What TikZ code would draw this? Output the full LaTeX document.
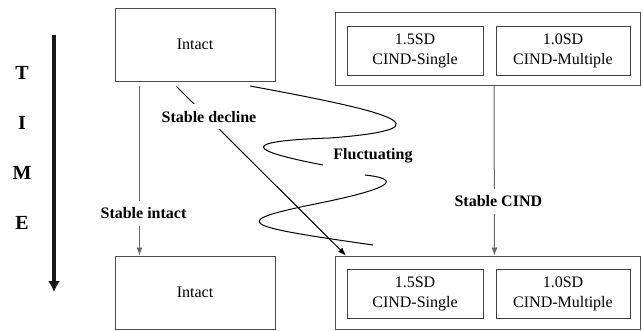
\documentclass[tikz,border=0pt]{standalone}
\usepackage{fontspec}
\setmainfont{Liberation Serif}
\usetikzlibrary{arrows.meta,positioning}

\begin{document}
\begin{tikzpicture}[>={Latex[length=8pt,width=6pt]}, x=1pt, y=-1pt,
    box/.style={draw=black!70, line width=1pt, minimum width=160pt, minimum height=73pt, font=\fontsize{16}{20}\selectfont},
    outbox/.style={draw=black!70, line width=1pt, minimum width=305pt, minimum height=73pt},
    inbox/.style={draw=black!75, line width=1pt, minimum height=49pt, inner sep=0pt, align=center, font=\fontsize{16}{20}\selectfont},
    lbl/.style={fill=white, text=black, font=\bfseries\fontsize{16}{20}\selectfont, inner xsep=2pt, inner ysep=7pt, text height=11pt, text depth=0pt},
    flow/.style={line width=1pt}]

\useasboundingbox (0,0) rectangle (643,330);

% Time axis
\coordinate (timeA) at (54,35);
\coordinate (timeB) at (54,292);
\draw[line width=3.5pt, black!90, -{Latex[length=11pt,width=12pt]}] (timeA) -- (timeB);
\foreach \l [count=\i] in {T,I,M,E}
    \node[font=\bfseries\fontsize{20}{24}\selectfont] (time\i) at (22,{23+50*\i}) {\l};

% Groups at the start
\node[box] (intactA) at (195,44.5) {Intact};
\node[outbox] (cindA) at (487.5,48.5) {};
\node[inbox, minimum width=136pt] (singleA) at (415,50.5) {1.5SD\\CIND-Single};
\node[inbox, minimum width=134pt, right=12pt of singleA] (multiA) {1.0SD\\CIND-Multiple};

% Groups at the end
\node[box] (intactB) at (195,292.5) {Intact};
\node[outbox] (cindB) at (488,292.5) {};
\node[inbox, minimum width=136pt] (singleB) at (415,293.5) {1.5SD\\CIND-Single};
\node[inbox, minimum width=134pt, right=12pt of singleB] (multiB) {1.0SD\\CIND-Multiple};

% Stable paths
\draw[flow, black!60, ->] ([xshift=25pt,yshift=-4pt]intactA.south west)
    -- node[lbl, pos=0.75, xshift=4pt] {Stable intact} ([xshift=25pt]intactB.north west);
\draw[flow, black!60, ->] ([xshift=6.5pt]cindA.south)
    -- node[lbl, pos=0.68, xshift=4pt] {Stable CIND} ([xshift=6.5pt]cindB.north);
\coordinate (declA) at ([xshift=62pt,yshift=-5pt]intactA.south west);
\draw[flow, ->] (declA)
    -- node[lbl, pos=0.18, xshift=2pt] {Stable decline} ([xshift=11pt]cindB.north west);

% Fluctuating path
\coordinate (fl0) at (250,86);
\coordinate (fl1) at (323,165);
\coordinate (fl2) at (365,175);
\coordinate (fl3) at (373,245);
\draw[flow] (fl0) .. controls (380,110) and (460,128) .. (330,138)
    .. controls (240,141) and (245,150) .. (fl1);
\draw[flow] (fl2) .. controls (392,178) and (408,185) .. (320,203)
    .. controls (225,222) and (240,226) .. (fl3);
\node[lbl] (fluct) at (373,154) {Fluctuating};

\end{tikzpicture}
\end{document}
